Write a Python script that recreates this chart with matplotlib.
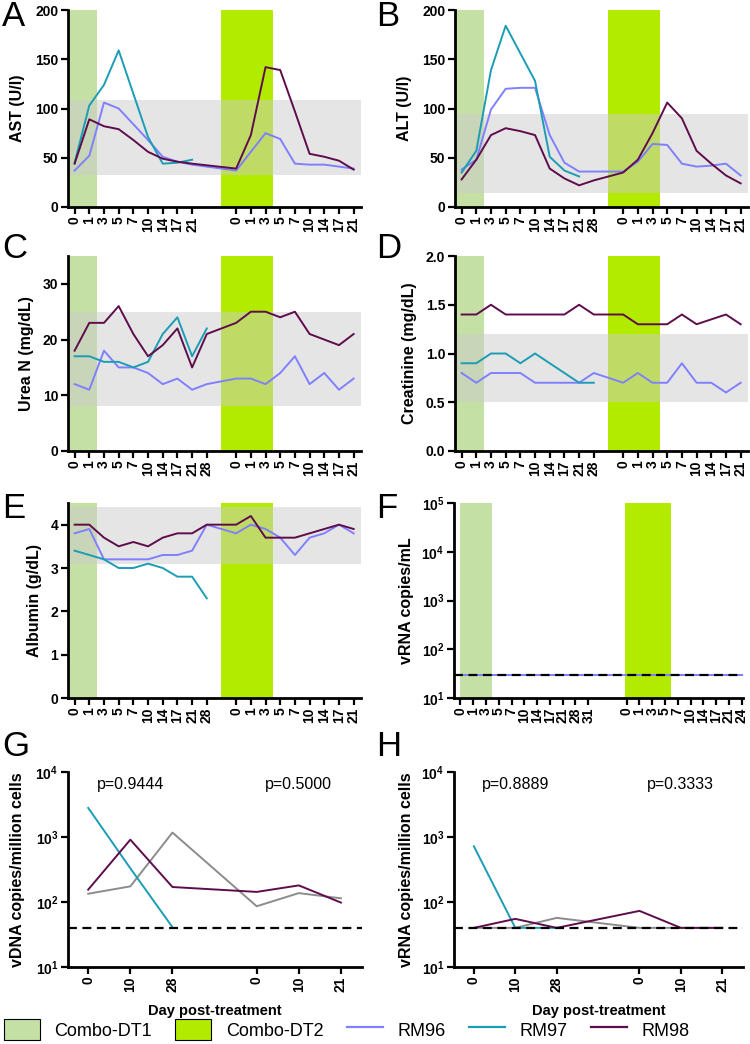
import math
import matplotlib
matplotlib.use('Agg')
import matplotlib.pyplot as plt
import matplotlib.ticker as mticker
from matplotlib.patches import Patch
from matplotlib.lines import Line2D

plt.rcParams['font.family'] = ['Liberation Sans', 'DejaVu Sans']
plt.rcParams['mathtext.fontset'] = 'custom'
plt.rcParams['mathtext.bf'] = 'Liberation Sans:bold'
plt.rcParams['mathtext.rm'] = 'Liberation Sans:bold'

# ---- data ----
days_a = ['0', '1', '3', '5', '7', '10', '14', '17', '21']
days_28 = ['0', '1', '3', '5', '7', '10', '14', '17', '21', '28']
days_2 = ['0', '1', '3', '5', '7', '10', '14', '17', '21']

ast_rm96 = ([37, 52, 106, 100, 84, 68, 51, 46, 43], [37, 56, 75, 69, 44, 43, 43, 41, 39])
ast_rm97 = ([45, 103, 124, 159, 115, 71, 44, 45, 48], [])
ast_rm98 = ([44, 89, 82, 79, 68, 56, 49, 46, 44], [39, 73, 142, 139, 97, 54, 51, 47, 38])

alt_rm96 = ([38, 48, 99, 120, 121, 121, 73, 45, 36, 36], [36, 46, 64, 63, 44, 41, 42, 44, 32])
alt_rm97 = ([35, 57, 139, 184, 156, 128, 51, 37, 31, None], [])
alt_rm98 = ([28, 48, 73, 80, 77, 73, 39, 29, 22, 27], [35, 48, 75, 106, 90, 57, 44, 32, 24])

bun_rm96 = ([12, 11, 18, 15, 15, 14, 12, 13, 11, 12], [13, 13, 12, 14, 17, 12, 14, 11, 13])
bun_rm97 = ([17, 17, 16, 16, 15, 16, 21, 24, 17, 22], [])
bun_rm98 = ([18, 23, 23, 26, 21, 17, 19, 22, 15, 21], [23, 25, 25, 24, 25, 21, 20, 19, 21])

cre_rm96 = ([0.8, 0.7, 0.8, 0.8, 0.8, 0.7, 0.7, 0.7, 0.7, 0.8], [0.7, 0.8, 0.7, 0.7, 0.9, 0.7, 0.7, 0.6, 0.7])
cre_rm97 = ([0.9, 0.9, 1.0, 1.0, 0.9, 1.0, 0.9, 0.8, 0.7, 0.7], [])
cre_rm98 = ([1.4, 1.4, 1.5, 1.4, 1.4, 1.4, 1.4, 1.4, 1.5, 1.4], [1.4, 1.3, 1.3, 1.3, 1.4, 1.3, 1.35, 1.4, 1.3])

alb_rm96 = ([3.8, 3.9, 3.2, 3.2, 3.2, 3.2, 3.3, 3.3, 3.4, 4.0], [3.8, 4.0, 3.9, 3.7, 3.3, 3.7, 3.8, 4.0, 3.8])
alb_rm97 = ([3.4, 3.3, 3.2, 3.0, 3.0, 3.1, 3.0, 2.8, 2.8, 2.3], [])
alb_rm98 = ([4.0, 4.0, 3.7, 3.5, 3.6, 3.5, 3.7, 3.8, 3.8, 4.0], [4.0, 4.2, 3.7, 3.7, 3.7, 3.8, 3.9, 4.0, 3.9])

pvl_days1 = ['0', '1', '3', '5', '7', '10', '14', '17', '21', '28', '31']
pvl_days2 = ['0', '1', '3', '5', '7', '10', '14', '17', '21', '24']
pvl_rm96 = ([30] * 11, [30] * 10)
pvl_lod = 30

tis_days1 = ['0', '10', '28']
tis_days2 = ['0', '10', '21']
vdna_rm96 = ([134, 174, 1170], [86, 137, 114])
vdna_rm97 = ([2800, 330, 41], [])
vdna_rm98 = ([155, 910, 170], [143, 180, 98])
vrna_rm96 = ([40, 40, 57], [40, 40, 40])
vrna_rm97 = ([720, 40, 40], [])
vrna_rm98 = ([40, 55, 40], [73, 40, 40])
tis_lod = 40
p_vdna = ['p=0.9444', 'p=0.5000']
p_vrna = ['p=0.8889', 'p=0.3333']

c96, c97, c98, cgray = '#8080ff', '#1b9db5', '#5e0d4c', '#8c8c8c'
dt1_col, dt2_col = '#c5e0a5', '#b2eb00'

W, H = 750, 1044
fig = plt.figure(figsize=(7.5, 10.44), dpi=100)


def add_ax(left, top, right, bottom):
    return fig.add_axes([left / W, 1 - bottom / H, (right - left) / W, (bottom - top) / H])


def style(ax):
    for s in ['top', 'right']:
        ax.spines[s].set_visible(False)
    for s in ['left', 'bottom']:
        ax.spines[s].set_linewidth(2)
    ax.tick_params(width=1.6, length=5, labelsize=10, pad=2)
    ax.tick_params(axis='x', rotation=90)
    for t in ax.get_xticklabels() + ax.get_yticklabels():
        t.set_fontweight('bold')
    ax.minorticks_off()


def xy(vals, offset):
    xs, ys = [], []
    for i, v in enumerate(vals[0]):
        if v is not None:
            xs.append(i)
            ys.append(v)
    for i, v in enumerate(vals[1]):
        if v is not None:
            xs.append(offset + i)
            ys.append(v)
    return xs, ys


def set_days(ax, d1, d2, offset):
    ax.set_xticks(list(range(len(d1))) + [offset + i for i in range(len(d2))])
    ax.set_xticklabels(d1 + d2)


def lab_panel(ax, d1, series, band, ylim, yticks, ylabel, lx):
    ax.axvspan(-1, 1.5, color=dt1_col, lw=0, zorder=0)
    ax.axvspan(10, 13.5, color=dt2_col, lw=0, zorder=0)
    ax.axhspan(band[0], band[1], color='#cccccc', alpha=0.5, lw=0, zorder=0.5)
    for vals, col in zip(series, [c96, c97, c98]):
        x, y = xy(vals, 11)
        ax.plot(x, y, color=col, lw=1.4, zorder=2)
    set_days(ax, d1, days_2, 11)
    ax.set_xlim(-0.45, 19.5)
    ax.set_ylim(*ylim)
    ax.set_yticks(yticks)
    ax.set_ylabel(ylabel, fontsize=11.5, fontweight='bold')
    ax.yaxis.set_label_coords(lx, 0.5)
    style(ax)


log_fmt = mticker.FuncFormatter(lambda v, p: r'$\mathbf{10^{%d}}$' % round(math.log10(v)))

axA = add_ax(68, 10, 361, 207)
lab_panel(axA, days_a, [ast_rm96, ast_rm97, ast_rm98], (32, 109), (0, 200), [0, 50, 100, 150, 200], 'AST (U/l)', -0.147)
axB = add_ax(455, 10, 748, 207)
lab_panel(axB, days_28, [alt_rm96, alt_rm97, alt_rm98], (14, 94), (0, 200), [0, 50, 100, 150, 200], 'ALT (U/l)', -0.147)
axC = add_ax(68, 256, 361, 451)
lab_panel(axC, days_28, [bun_rm96, bun_rm97, bun_rm98], (8, 25), (0, 35), [0, 10, 20, 30], 'Urea N (mg/dL)', -0.116)
axD = add_ax(455, 256, 748, 451)
lab_panel(axD, days_28, [cre_rm96, cre_rm97, cre_rm98], (0.5, 1.2), (0, 2.0), [0, 0.5, 1.0, 1.5, 2.0], 'Creatinine (mg/dL)', -0.13)
axD.yaxis.set_major_formatter(mticker.FormatStrFormatter('%.1f'))
for t in axD.get_yticklabels():
    t.set_fontweight('bold')
axE = add_ax(68, 503, 361, 698)
lab_panel(axE, days_28, [alb_rm96, alb_rm97, alb_rm98], (3.1, 4.4), (0, 4.5), [0, 1, 2, 3, 4], 'Albumin (g/dL)', -0.09)

# F: plasma viral load
axF = add_ax(454, 503, 743, 698)
axF.axvspan(0, 2.5, color=dt1_col, lw=0, zorder=0)
axF.axvspan(12.9, 16.5, color=dt2_col, lw=0, zorder=0)
x, y = xy(pvl_rm96, 13)
axF.plot(x, y, color=c96, lw=1.4, zorder=2)
axF.axhline(pvl_lod, color='black', lw=1.6, ls=(0, (4, 2.5)), zorder=3)
axF.set_yscale('log')
axF.set_ylim(10, 1e5)
axF.set_yticks([10, 1e2, 1e3, 1e4, 1e5])
axF.yaxis.set_major_formatter(log_fmt)
set_days(axF, pvl_days1, pvl_days2, 13)
axF.set_xlim(-0.5, 22.1)
axF.set_ylabel('vRNA copies/mL', fontsize=11.5, fontweight='bold')
axF.yaxis.set_label_coords(-0.14, 0.5)
style(axF)


def tissue_panel(ax, series, ptexts, ylabel, lx):
    for vals, col in zip(series, [cgray, c97, c98]):
        x, y = xy(vals, 4)
        ax.plot(x, y, color=col, lw=1.4, zorder=2)
    ax.axhline(tis_lod, color='black', lw=1.6, ls=(0, (4, 2.5)), zorder=3)
    ax.set_yscale('log')
    ax.set_ylim(10, 1e4)
    ax.set_yticks([10, 1e2, 1e3, 1e4])
    ax.yaxis.set_major_formatter(log_fmt)
    set_days(ax, tis_days1, tis_days2, 4)
    ax.set_xlim(-0.48, 6.5)
    ax.set_ylabel(ylabel, fontsize=11.5, fontweight='bold')
    ax.yaxis.set_label_coords(lx, 0.5)
    ax.set_xlabel('Day post-treatment', fontsize=10.5, fontweight='bold')
    ax.xaxis.set_label_coords(0.5, -0.19)
    ax.text(1.0, 6500, ptexts[0], ha='center', va='center', fontsize=11.5)
    ax.text(5.0, 6500, ptexts[1], ha='center', va='center', fontsize=11.5)
    style(ax)


axG = add_ax(68, 772, 362, 967)
tissue_panel(axG, [vdna_rm96, vdna_rm97, vdna_rm98], p_vdna, 'vDNA copies/million cells', -0.146)
axH = add_ax(454, 772, 743, 967)
tissue_panel(axH, [vrna_rm96, vrna_rm97, vrna_rm98], p_vrna, 'vRNA copies/million cells', -0.138)

# panel letters
for letter, px, py in [('A', 2, 0), ('B', 376, 0), ('C', 2, 232), ('D', 376, 232),
                       ('E', 2, 492), ('F', 376, 492), ('G', 2, 730), ('H', 376, 730)]:
    fig.text(px / W, 1 - py / H, letter, fontsize=25, va='top', ha='left')

handles = [Patch(facecolor=dt1_col, edgecolor='black', lw=0.8),
           Patch(facecolor=dt2_col, edgecolor='black', lw=0.8),
           Line2D([], [], color=c96, lw=1.6),
           Line2D([], [], color=c97, lw=1.6),
           Line2D([], [], color=c98, lw=1.6)]
fig.legend(handles, ['Combo-DT1', 'Combo-DT2', 'RM96', 'RM97', 'RM98'],
           loc='lower left', bbox_to_anchor=(0.0, 0.0), ncol=5, frameon=False,
           fontsize=13, handlelength=2.0, handleheight=1.45, handletextpad=0.8,
           columnspacing=1.3, borderpad=0.1, borderaxespad=0.1)

fig.savefig('out.png', dpi=100)
